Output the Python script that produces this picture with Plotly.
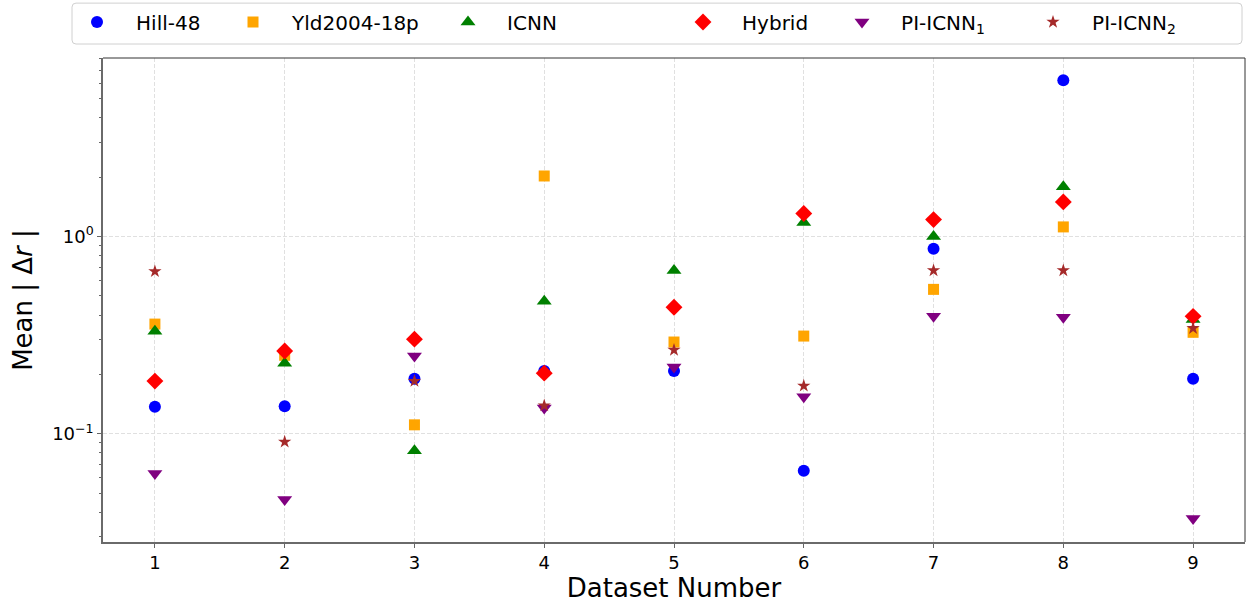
import plotly.graph_objects as go

datasets = [1, 2, 3, 4, 5, 6, 7, 8, 9]
hill48 = [0.137, 0.138, 0.190, 0.208, 0.208, 0.065, 0.869, 6.21, 0.190]
yld2004 = [0.360, 0.250, 0.111, 2.03, 0.292, 0.313, 0.540, 1.12, 0.327]
icnn = [0.331, 0.228, 0.082, 0.470, 0.673, 1.18, 1.00, 1.79, 0.380]
hybrid = [0.185, 0.263, 0.302, 0.203, 0.438, 1.31, 1.22, 1.50, 0.394]
pi_icnn1 = [0.0628, 0.0464, 0.248, 0.135, 0.218, 0.154, 0.394, 0.390, 0.0372]
pi_icnn2 = [0.666, 0.091, 0.185, 0.139, 0.266, 0.175, 0.673, 0.673, 0.343]

series = [
    ("Hill-48", hill48, "circle", "blue", 12, 97),
    ("Yld2004-18p", yld2004, "square", "orange", 11, 253),
    ("ICNN", icnn, "triangle-up", "green", 13, 468),
    ("Hybrid", hybrid, "diamond", "red", 13, 703),
    ("PI-ICNN<sub>1</sub>", pi_icnn1, "triangle-down", "purple", 13, 862),
    ("PI-ICNN<sub>2</sub>", pi_icnn2, "star", "brown", 10, 1053),
]

W, H = 1249, 603
L, R, T, B = 103, 4, 57, 61
pw, ph = W - L - R, H - T - B

def px2x(px):
    return (px - L) / pw

def py2y(py):
    return (H - B - py) / ph

fig = go.Figure()
layout_legends = {}
center_off = 20
for i, (name, vals, sym, col, size, mx) in enumerate(series):
    key = f"legend{i+2}"
    fig.add_trace(go.Scatter(
        x=datasets, y=vals, mode="markers", name="   " + name,
        marker=dict(symbol=sym, color=col, size=size, line=dict(width=0)),
        legend=key,
    ))
    layout_legends[key] = dict(
        x=px2x(mx - center_off), xanchor="left",
        y=py2y(22), yanchor="middle",
        orientation="h",
        bgcolor="rgba(0,0,0,0)", borderwidth=0,
        font=dict(family="DejaVu Sans", size=20, color="black"),
    )

minor_vals = [m * 10 ** e for e in (-2, -1, 0) for m in range(2, 10)]

fig.update_layout(
    width=W, height=H,
    margin=dict(l=L, r=R, t=T, b=B),
    paper_bgcolor="white", plot_bgcolor="white",
    font=dict(family="DejaVu Sans", color="black"),
    **layout_legends,
    xaxis=dict(
        range=[0.6, 9.4], tickvals=datasets, ticktext=[str(d) for d in datasets],
        ticks="outside", ticklen=4, tickcolor="#666",
        tickfont=dict(size=18),
        showgrid=True, gridcolor="#e0e0e0", griddash="4px,2px", gridwidth=0.8,
        showline=True, linecolor="#6a6a6a", linewidth=1.5, mirror=False,
        zeroline=False,
        title=dict(text="Dataset Number", font=dict(size=26), standoff=3),
    ),
    yaxis=dict(
        type="log", range=[-1.549, 0.906],
        tickvals=[0.1, 1], ticktext=["10<sup>\u22121</sup>", "10<sup>0</sup>"],
        ticks="outside", ticklen=4, tickcolor="#666",
        tickfont=dict(size=18),
        showgrid=True, gridcolor="#e0e0e0", griddash="4px,2px", gridwidth=0.8,
        showline=True, linecolor="#6a6a6a", linewidth=1.5, mirror=False,
        zeroline=False,
        minor=dict(tickvals=minor_vals, ticks="outside", ticklen=2, tickcolor="#666", showgrid=False),
        title=dict(text="Mean | \u0394<i>r</i> |", font=dict(size=26), standoff=12),
    ),
)

# top/right spines and legend frame
fig.add_shape(type="line", xref="paper", yref="paper", x0=0, x1=1, y0=1, y1=1,
              line=dict(color="#333", width=1))
fig.add_shape(type="line", xref="paper", yref="paper", x0=1, x1=1, y0=0, y1=1,
              line=dict(color="#333", width=1))

x0, x1 = px2x(72), px2x(1242)
y0, y1 = py2y(43), py2y(2)
rx, ry = 4 / pw, 4 / ph
path = (f"M {x0+rx},{y0} L {x1-rx},{y0} Q {x1},{y0} {x1},{y0+ry} "
        f"L {x1},{y1-ry} Q {x1},{y1} {x1-rx},{y1} L {x0+rx},{y1} "
        f"Q {x0},{y1} {x0},{y1-ry} L {x0},{y0+ry} Q {x0},{y0} {x0+rx},{y0} Z")
fig.add_shape(type="path", xref="paper", yref="paper", path=path,
              line=dict(color="#d0d0d0", width=1), fillcolor="rgba(255,255,255,0.8)", layer="below")

fig.write_html("out.html")
